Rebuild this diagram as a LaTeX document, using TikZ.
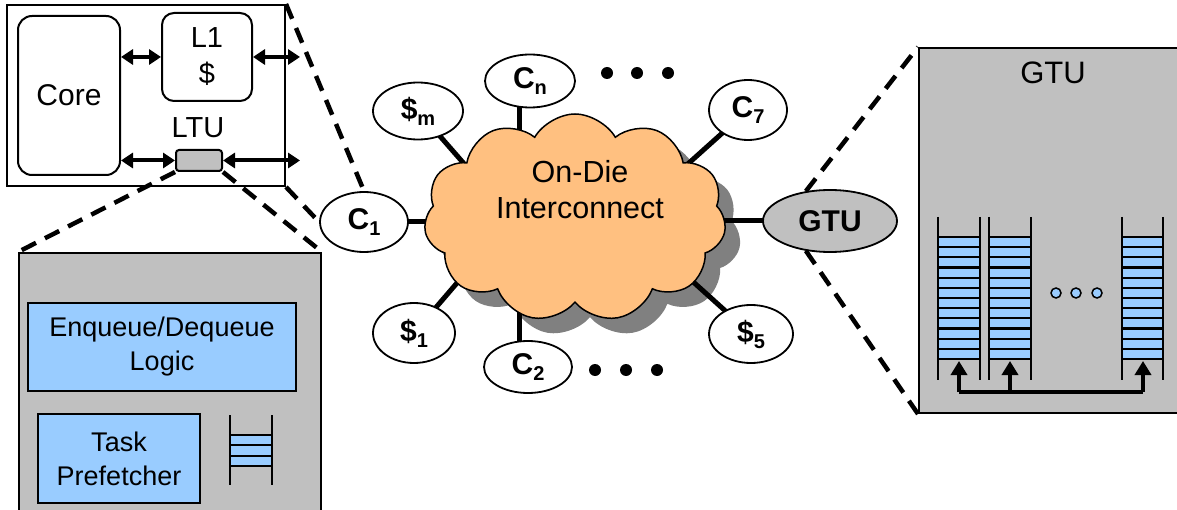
\documentclass[tikz,border=0pt]{standalone}
\usepackage{fontspec}
\setmainfont{Liberation Sans}
\usetikzlibrary{shapes.geometric,shapes.symbols,arrows.meta}
\definecolor{boxgray}{HTML}{C0C0C0}
\definecolor{qblue}{HTML}{99CCFF}
\definecolor{cloudor}{HTML}{FFC080}
\definecolor{shadowgray}{HTML}{808080}
\newcommand\elab[2]{\textbf{#1}\raisebox{-6pt}{\fontsize{20}{20}\selectfont\textbf{#2}}}
\pgfdeclarelayer{bottom}
\pgfdeclarelayer{background}
\pgfsetlayers{bottom,background,main}
\begin{document}
\begin{tikzpicture}[x=1pt,y=-1pt,
  txt/.style={font=\fontsize{27}{34}\selectfont, align=center, inner sep=0pt},
  bigtxt/.style={font=\fontsize{30}{36}\selectfont, align=center, inner sep=0pt},
  frame/.style={draw=black, line width=2pt, inner sep=0pt},
  rbox/.style={frame, rounded corners=14pt, fill=white},
  ell/.style={ellipse, draw=black, line width=1.8pt, fill=white, inner sep=0pt, font=\fontsize{30}{34}\selectfont},
  link/.style={line width=5pt},
  dl/.style={line width=4.5pt, dash pattern=on 16pt off 10pt},
  dbl/.style={line width=4pt, {Triangle[length=12pt,width=15pt]}-{Triangle[length=12pt,width=15pt]}},
  uparr/.style={line width=4pt, -{Triangle[length=14pt,width=16pt]}},
  qline/.style={line width=2pt},
  hline/.style={line width=2.2pt},
  bigdot/.style={circle, fill=black, minimum size=12pt, inner sep=0pt},
  smalldot/.style={circle, fill=qblue, draw=black, line width=1.5pt, minimum size=10pt, inner sep=0pt},
  cloudst/.style={cloud, cloud puffs=11, cloud puff arc=120, aspect=1.5, minimum width=302pt, minimum height=208pt, inner sep=0pt},
]
\useasboundingbox (0,0) rectangle (1177,510);

% ---------- top-left tile ----------
\node[frame, fill=white, minimum width=278pt, minimum height=181pt] (tl) at (146,95.5) {};
\node[rbox, minimum width=102pt, minimum height=159pt, bigtxt] (core) at (69,95.5) {Core};
\node[rbox, rounded corners=12pt, minimum width=90pt, minimum height=88pt, font=\fontsize{29}{36}\selectfont, align=center] (l1) at (207,57) {L1\\\$};
\node[inner sep=0pt, font=\fontsize{29}{34}\selectfont] (ltulab) at (198,128) {LTU};
\node[frame, fill=boxgray, rounded corners=3pt, minimum width=46pt, minimum height=21pt] (ltu) at (199,160.5) {};
\coordinate (o1) at (300,57);
\coordinate (o2) at (300,160.5);
\draw[dbl] (core.east |- l1.west) -- (l1.west);
\draw[dbl] (l1.east) -- (o1);
\draw[dbl] (core.east |- ltu.west) -- (ltu.west);
\draw[dbl] (ltu.east) -- (o2);

% ---------- LTU detail ----------
\node[frame, fill=boxgray, anchor=north west, minimum width=302pt, minimum height=280pt] (det) at (18,252) {};
\node[frame, fill=qblue, minimum width=268pt, minimum height=88pt, txt] (enq) at (162,347) {Enqueue/Dequeue\\Logic};
\node[frame, fill=qblue, minimum width=162pt, minimum height=89pt, txt] (task) at (119,458.5) {Task\\Prefetcher};
\fill[qblue] (230,435) rectangle (272,466);
\foreach \yy in {435,445.3,455.7,466} \draw[hline] (230,\yy) -- (272,\yy);
\draw[qline] (230,415) -- (230,485);
\draw[qline] (272,415) -- (272,485);

% ---------- interconnect ----------
\begin{pgfonlayer}{bottom}
\node[cloudst, fill=shadowgray] (shadow) at (590,233) {};
\end{pgfonlayer}
\node[cloudst, fill=cloudor, draw=black, line width=1.5pt] (cloud) at (575,218) {};
\node[bigtxt, font=\fontsize{30.5}{36}\selectfont] (cltxt) at (580,190) {On-Die\\Interconnect};

\node[ell, minimum width=88pt, minimum height=60pt] (c1) at (364,222) {\elab{C}{1}};
\node[ell, minimum width=90pt, minimum height=57pt] (sm) at (418,111) {\elab{\$}{m}};
\node[ell, minimum width=90pt, minimum height=53pt] (cn) at (530,81) {\elab{C}{n}};
\node[ell, minimum width=78pt, minimum height=60pt] (c7) at (748,110) {\elab{C}{7}};
\node[ell, fill=boxgray, minimum width=134pt, minimum height=62pt] (gtu) at (830,221) {\textbf{GTU}};
\node[ell, minimum width=82pt, minimum height=60pt] (s1) at (414,333) {\elab{\$}{1}};
\node[ell, minimum width=88pt, minimum height=52pt] (c2) at (528,367) {\elab{C}{2}};
\node[ell, minimum width=84pt, minimum height=58pt] (s5) at (751,334) {\elab{\$}{5}};

\coordinate (kc1) at (470,222);
\coordinate (ksm) at (480,182);
\coordinate (kcn) at (519,170);
\coordinate (kc7) at (680,171);
\coordinate (kgtu) at (700,221);
\coordinate (ks1) at (475,262);
\coordinate (kc2) at (519,290);
\coordinate (ks5) at (680,270);
\begin{pgfonlayer}{background}
\draw[link] (c1.center) -- (kc1);
\draw[link] (sm.center) -- (ksm);
\draw[link] (kcn |- cn.center) -- (kcn);
\draw[link] (c7.center) -- (kc7);
\draw[link] (gtu.center) -- (kgtu);
\draw[link] (s1.center) -- (ks1);
\draw[link] (kc2 |- c2.center) -- (kc2);
\draw[link] (s5.center) -- (ks5);
\end{pgfonlayer}

\node[bigdot] (d1) at (607,73) {};
\node[bigdot] (d2) at (637,73) {};
\node[bigdot] (d3) at (668,73) {};
\node[bigdot] (d4) at (595,370) {};
\node[bigdot] (d5) at (626,370) {};
\node[bigdot] (d6) at (657,370) {};

% ---------- GTU detail ----------
\node[frame, fill=boxgray, anchor=north west, minimum width=275pt, minimum height=365pt] (gbox) at (918,47) {};
\node[inner sep=0pt, font=\fontsize{31}{36}\selectfont] (gtitle) at (1053,73) {GTU};
\foreach \xa/\xb in {938/980, 989/1031, 1122/1163} {
  \fill[qblue] (\xa,237) rectangle (\xb,359);
  \foreach \k in {0,...,12} \draw[hline] (\xa,237+\k*10.17) -- (\xb,237+\k*10.17);
  \draw[qline] (\xa,217) -- (\xa,380);
  \draw[qline] (\xb,217) -- (\xb,380);
}
\node[smalldot] (g1) at (1056,293) {};
\node[smalldot] (g2) at (1076,293) {};
\node[smalldot] (g3) at (1097,293) {};
\coordinate (a1) at (959,392);
\coordinate (a2) at (1010,392);
\coordinate (a3) at (1143,392);
\coordinate (t1) at (959,361);
\coordinate (t2) at (1010,361);
\coordinate (t3) at (1143,361);
\draw[line width=4pt] (a1) -- (a3);
\draw[uparr] (a1) -- (t1);
\draw[uparr] (a2) -- (t2);
\draw[uparr] (a3) -- (t3);

% ---------- zoom lines ----------
\draw[dl] (tl.north east) -- (c1.north);
\draw[dl] (tl.south east) -- (c1.west);
\draw[dl] (ltu.south west) -- (det.north west);
\draw[dl] (ltu.south east) -- (det.north east);
\draw[dl] (gtu.129) -- (gbox.north west);
\draw[dl] (gtu.231) -- (gbox.south west);
\end{tikzpicture}
\end{document}
